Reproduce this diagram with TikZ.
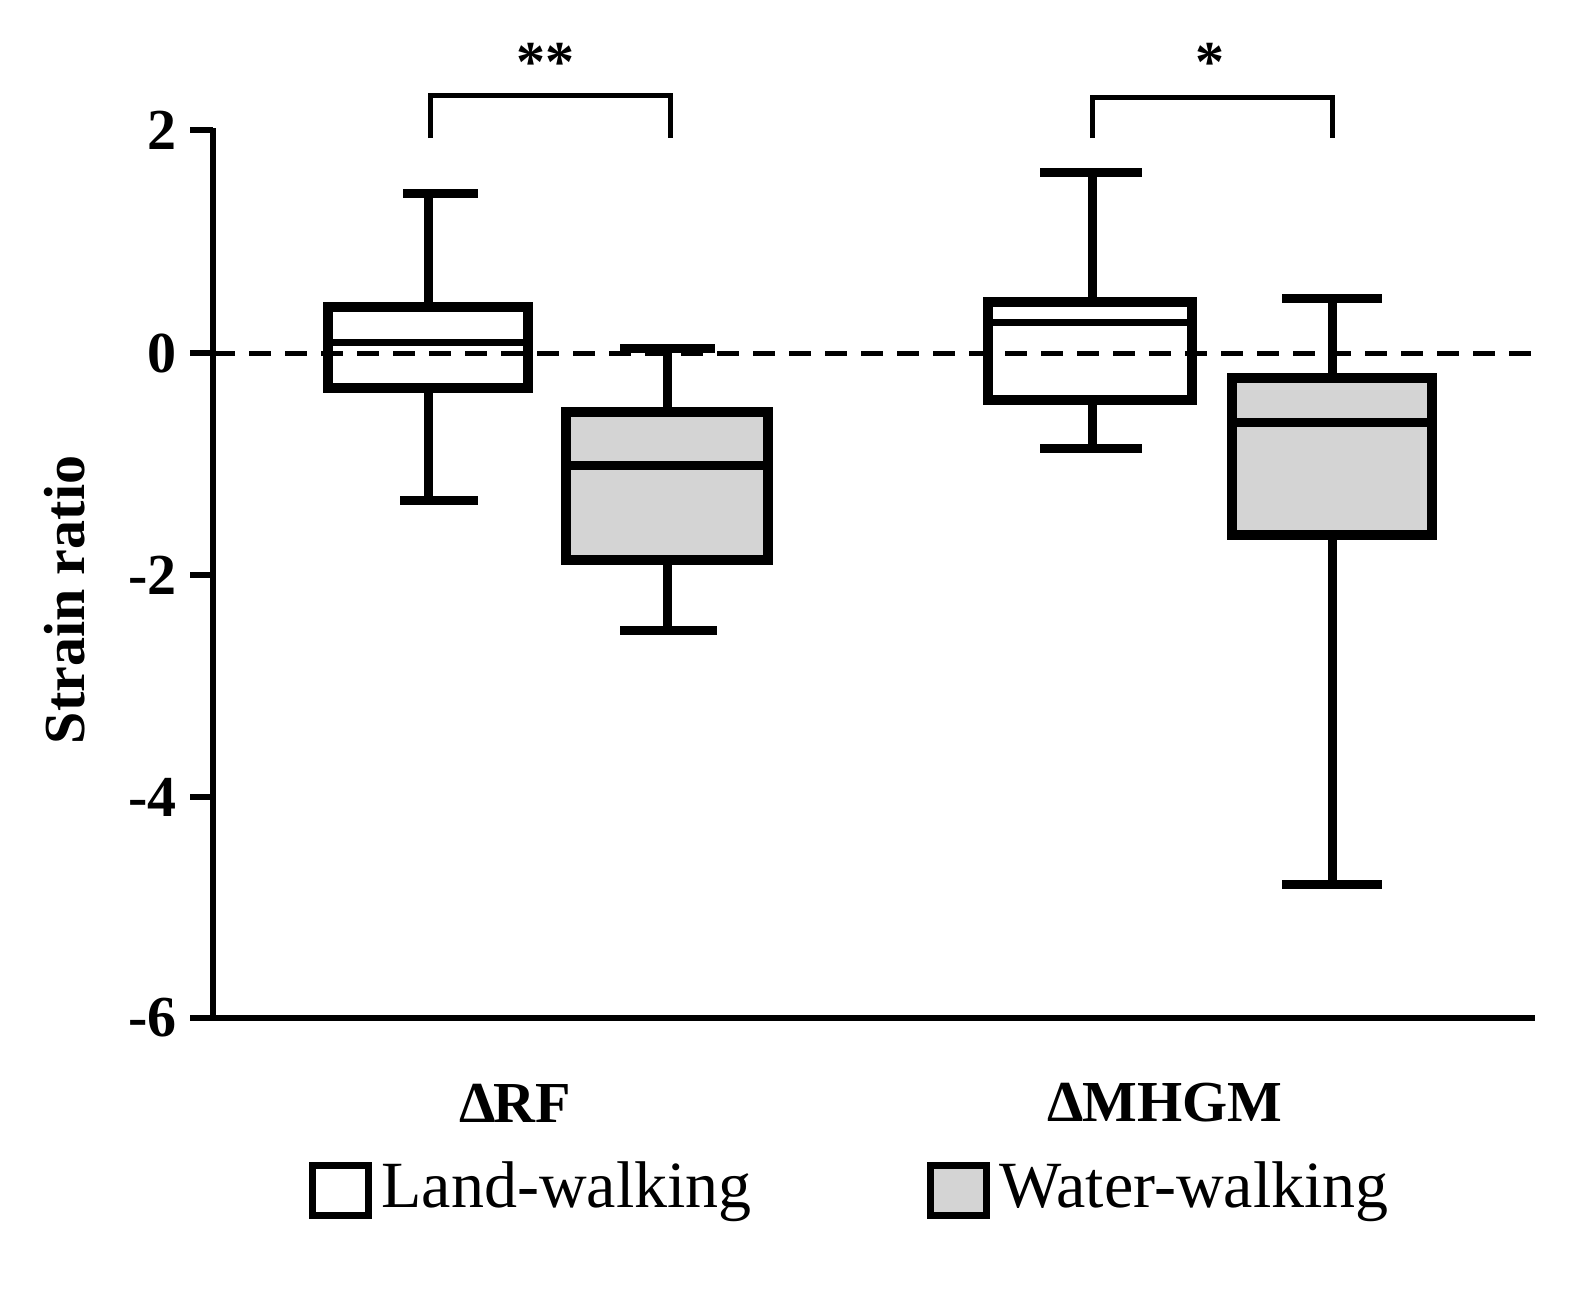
\documentclass[tikz,border=0pt]{standalone}
\usepackage{fontspec}
\setmainfont{Liberation Serif}
\begin{document}
\begin{tikzpicture}[x=1pt,y=-1pt,
 thick line/.style={line width=9pt},
 box/.style={line width=10pt},
 lbl/.style={font=\fontsize{58}{62}\selectfont\bfseries},
 leg/.style={font=\fontsize{66}{70}\selectfont,anchor=west}]
\useasboundingbox (0,0) rectangle (1586,1288);
% axes
\draw[line width=6pt] (213,128) -- (213,1018) -- (1535,1018);
\foreach \y/\t in {130/2,353/0,575/-2,797/-4,1018/-6}{
 \draw[line width=6pt] (190,\y) -- (213,\y);
 \node[lbl,anchor=east] (t\t) at (180,\y) {\t};}
\node[lbl,rotate=90] (yl) at (65,600) {Strain ratio};
% RF land
\draw[thick line] (428,193) -- (428,307) (428,388) -- (428,500);
\draw[thick line] (403,193) -- (478,193) (400,500) -- (478,500);
\draw[box,fill=white] (328,307) rectangle (528,388);
\draw[line width=7pt] (328,342) -- (528,342);
% RF water
\draw[thick line] (667,348) -- (667,412) (667,560) -- (667,630);
\draw[thick line] (620,348) -- (715,348) (620,630) -- (717,630);
\draw[box,fill=black!17] (566,412) rectangle (768,560);
\draw[line width=9pt] (566,465) -- (768,465);
% MHGM land
\draw[thick line] (1092,172) -- (1092,302) (1092,400) -- (1092,448);
\draw[thick line] (1040,172) -- (1142,172) (1040,448) -- (1142,448);
\draw[box,fill=white] (988,302) rectangle (1192,400);
\draw[line width=7pt] (988,322) -- (1192,322);
% MHGM water
\draw[thick line] (1332,298) -- (1332,378) (1332,535) -- (1332,884);
\draw[thick line] (1282,298) -- (1382,298) (1282,884) -- (1382,884);
\draw[box,fill=black!17] (1232,378) rectangle (1432,535);
\draw[line width=9pt] (1232,422) -- (1432,422);
% zero line
\draw[line width=5pt,dash pattern=on 22pt off 14pt] (213,353) -- (1545,353);
% brackets
\draw[line width=5pt] (430,138) -- (430,95) -- (670,95) -- (670,138);
\draw[line width=5pt] (1092,138) -- (1092,97) -- (1332,97) -- (1332,138);
\node[lbl] (s1) at (545,62) {**};
\node[lbl] (s2) at (1210,62) {*};
% categories
\node[lbl] (c1) at (515,1103) {Δ\kern-2pt RF};
\node[lbl] (c2) at (1165,1103) {Δ\kern-2pt MHGM};
% legend
\draw[line width=7pt,fill=white] (312,1165) rectangle (368,1215);
\node[leg] (l1) at (378,1192) {Land-walking};
\draw[line width=7pt,fill=black!17] (930,1165) rectangle (986,1215);
\node[leg] (l2) at (996,1192) {Water-walking};
\end{tikzpicture}
\end{document}
